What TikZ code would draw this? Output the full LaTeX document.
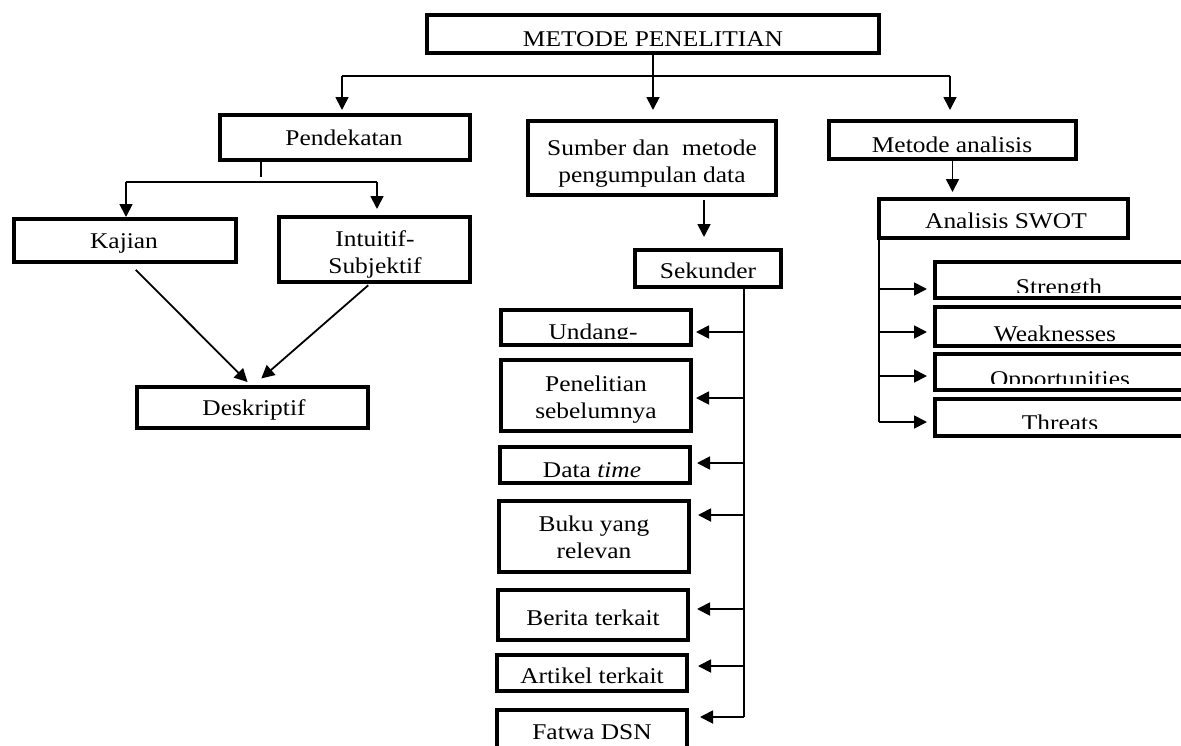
\documentclass[tikz,border=0pt]{standalone}
\usepackage{fontspec}
\setmainfont{Liberation Serif}[FakeStretch=1.13]
\usetikzlibrary{arrows.meta}
\newcommand\bx[5]{\node[bxs, minimum width={(#4-#2-4)*1pt}, minimum height={(#5-#3-4)*1pt}] (#1) at ({(#2+#4)/2},{(#3+#5)/2}) {};}
\newcommand\tx[4]{\node[txt] (#1-t) at (#2,#3) {#4};}
\newcommand\tc[5]{\begin{scope}\coordinate (cut) at (0,#4);\clip (#1.north west) rectangle (#1.east |- cut);\node[txt] (#1-t) at (#2,#3) {#5};\end{scope}}
\begin{document}
\begin{tikzpicture}[x=1pt,y=-1pt,
  bxs/.style={draw, line width=4pt, rectangle, inner sep=0pt, outer sep=0pt},
  txt/.style={anchor=base, inner sep=0pt, align=center, font=\fontsize{22.5}{27}\selectfont},
  ln/.style={line width=1.8pt},
  arr/.style={ln, -{Triangle[length=13pt,width=13pt]}}]
\useasboundingbox (0,0) rectangle (1181,745);
\fill[white] (0,0) rectangle (1181,745);
\clip (0,0) rectangle (1181,745);
% boxes
\bx{top}{425}{13}{881}{55}
\bx{pend}{218}{113}{472}{162}
\bx{kaj}{12}{217}{238}{264}
\bx{intu}{277}{215}{472}{284}
\bx{desk}{135}{385}{370}{430}
\bx{sum}{526}{119}{778}{197}
\bx{sek}{633}{248}{783}{289}
\bx{und}{499}{308}{693}{347}
\bx{pen}{499}{358}{693}{433}
\bx{dat}{498}{445}{692}{485}
\bx{buk}{497}{499}{691}{574}
\bx{ber}{496}{588}{690}{642}
\bx{art}{495}{653}{689}{693}
\bx{fat}{495}{708}{689}{775}
\bx{anal}{827}{119}{1078}{161}
\bx{swot}{877}{197}{1130}{240}
\bx{str}{933}{260}{1200}{300}
\bx{wea}{933}{305}{1200}{348}
\bx{opp}{933}{352}{1200}{392}
\bx{thr}{933}{397}{1200}{438}
% texts
\tx{top}{653}{46}{METODE PENELITIAN}
\tx{pend}{344}{145}{Pendekatan}
\tx{kaj}{124}{248}{Kajian}
\tx{intu}{375}{273}{Intuitif-\\Subjektif}
\tx{desk}{254}{415}{Deskriptif}
\tx{sum}{652}{182}{Sumber dan~~metode\\pengumpulan data}
\tx{sek}{708}{278}{Sekunder}
\tc{und}{593}{339}{338}{Undang-}
\tx{pen}{596}{418}{Penelitian\\sebelumnya}
\tc{dat}{592}{477}{477}{Data \textit{time}}
\tx{buk}{594}{558}{Buku yang\\relevan}
\tx{ber}{593}{625}{Berita terkait}
\tx{art}{592}{683}{Artikel terkait}
\tx{fat}{592}{739}{Fatwa DSN}
\tx{anal}{952}{152}{Metode analisis}
\tc{swot}{1006}{228}{227}{Analisis SWOT}
\tc{str}{1059}{294}{292}{Strength}
\tx{wea}{1055}{341}{Weaknesses}
\tc{opp}{1060}{386}{383}{Opportunities}
\tc{thr}{1060}{430}{428}{Threats}
% top connectors
\coordinate (bl) at (342,76);
\coordinate (br) at (950,76);
\draw[ln] (bl) -- (br);
\draw[arr, shorten >=11pt] (top.south) -- (top.south |- sum.north);
\draw[arr, shorten >=5pt] (bl) -- (bl |- pend.north);
\draw[arr, shorten >=11pt] (br) -- (br |- anal.north);
% Pendekatan
\coordinate (p1) at (261,158);
\coordinate (p2) at (261,177);
\draw[ln] (p1) -- (p2);
\coordinate (hl) at (126,182);
\coordinate (hr) at (377,182);
\draw[ln] (hl) -- (hr);
\draw[arr, shorten >=2pt] (hl) -- (hl |- kaj.north);
\draw[arr, shorten >=8pt] (hr) -- (hr |- intu.north);
\draw[arr, shorten <=11pt, shorten >=7pt] ([xshift=3pt]kaj.south) -- (desk.north);
\draw[arr, shorten <=5pt, shorten >=13pt] ([xshift=-2.5pt]intu.south) -- ([xshift=-1pt]desk.north);
% Sumber
\draw[arr, shorten <=5pt, shorten >=13pt] ([xshift=52pt]sum.south) -- ([xshift=-4pt]sek.north);
\coordinate (sb) at (744,289);
\coordinate (se) at (744,717);
\draw[ln] (sb) -- (se);
\foreach \n/\y/\s in {und/332/5, pen/398/5, dat/463/7, buk/515/9, ber/609/9, art/666/11, fat/717/13}{
  \coordinate (s-\n) at (744,\y);
  \draw[arr, shorten >=\s pt] (s-\n) -- (s-\n -| \n.east);
}
% analisis
\draw[arr, shorten >=7pt] (anal.south) -- (anal.south |- swot.north);
\coordinate (wb) at (879,239);
\coordinate (we) at (879,422);
\draw[ln] (wb) -- (we);
\foreach \n/\y in {str/289, wea/332, opp/376, thr/422}{
  \coordinate (w-\n) at (879,\y);
  \draw[arr, shorten >=8pt] (w-\n) -- (w-\n -| \n.west);
}
\end{tikzpicture}
\end{document}
